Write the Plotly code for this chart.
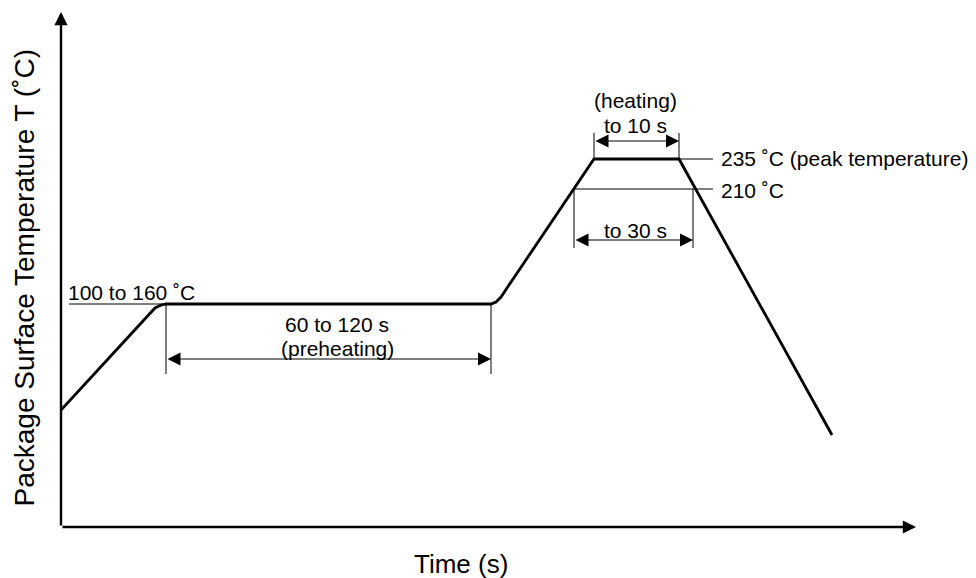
import plotly.graph_objects as go

# Reflow profile (schematic units: time along x, temperature along y)
profile_time = [0, 89, 94, 99, 105, 430, 435, 440, 444, 533, 618, 771]
profile_temp = [117, 214, 219, 221.5, 223, 223, 225, 230, 236, 368, 368, 92]

# Reference levels (schematic units)
preheat_level = 223
peak_level = 368
t210_level = 338
preheat_start, preheat_end = 105, 430
heat_start, heat_end = 533, 618
t210_start, t210_end = 513, 632
label_line_end = 652

x_max, y_max = 855, 515

FONT = "Liberation Sans, Arial, sans-serif"
fig = go.Figure()

def seg(xs, ys, w=1.0):
    fig.add_trace(go.Scatter(x=xs, y=ys, mode="lines",
                             line=dict(color="black", width=w),
                             hoverinfo="skip", showlegend=False))

# guide lines
seg([8, preheat_start], [preheat_level, preheat_level])
seg([preheat_start, preheat_start], [preheat_level, 153])
seg([preheat_end, preheat_end], [preheat_level, 153])
seg([heat_start, label_line_end], [peak_level, peak_level])
seg([t210_start, label_line_end], [t210_level, t210_level])
seg([heat_start, heat_start], [peak_level, 394])
seg([heat_end, heat_end], [peak_level, 394])
seg([t210_start, t210_start], [t210_level, 279])
seg([t210_end, t210_end], [t210_level, 279])

# profile
fig.add_trace(go.Scatter(x=profile_time, y=profile_temp, mode="lines",
                         line=dict(color="black", width=2.8),
                         hoverinfo="skip", showlegend=False))

def arrow(x0, y0, x1, y1, both=False, w=1.0, size=2.6):
    fig.add_annotation(x=x1, y=y1, ax=x0, ay=y0, xref="x", yref="y",
                       axref="x", ayref="y", text="", showarrow=True,
                       arrowhead=2, arrowsize=size, arrowwidth=w,
                       arrowcolor="black",
                       arrowside="end+start" if both else "end",
                       startarrowhead=2, startarrowsize=size)

# axes with arrows
arrow(0, 0, 0, y_max, w=2.4, size=1.1)
arrow(0, 0, x_max, 0, w=2.4, size=1.1)

# dimension arrows
arrow(preheat_start, 168, preheat_end, 168, both=True)
arrow(heat_start, 386, heat_end, 386, both=True)
arrow(t210_start, 287, t210_end, 287, both=True)

def label(x, y, text, anchor="center", size=21):
    fig.add_annotation(x=x, y=y, xref="x", yref="y", text=text,
                       showarrow=False, xanchor=anchor, yanchor="middle",
                       font=dict(family=FONT, size=size, color="black"))

label(5, 235, "100 to 160 ˚C", anchor="left")
label(276, 203, "60 to 120 s")
label(276, 179, "(preheating)")
label(574, 427, "(heating)")
label(574, 402, "to 10 s")
label(574, 297, "to 30 s")
label(658, 369, "235 ˚C (peak temperature)", anchor="left")
label(658, 337, "210 ˚C", anchor="left")

fig.add_annotation(x=400, y=0, xref="x", yref="paper", yshift=-37,
                   text="Time (s)", showarrow=False, yanchor="middle",
                   font=dict(family=FONT, size=26, color="black"))
fig.add_annotation(x=0, y=0.5, xref="paper", yref="paper", xshift=-37,
                   yshift=-10,
                   text="Package Surface Temperature T (˚C)", showarrow=False,
                   textangle=-90, xanchor="center", yanchor="middle",
                   font=dict(family=FONT, size=28, color="black"))

fig.update_layout(
    width=968, height=570,
    margin=dict(l=53, r=968 - 53 - 870, t=0, b=570 - 519),
    paper_bgcolor="white", plot_bgcolor="white",
    xaxis=dict(range=[0, 870], visible=False, fixedrange=True),
    yaxis=dict(range=[0, 519], visible=False, fixedrange=True),
    showlegend=False,
)
fig.write_html("out.html")
